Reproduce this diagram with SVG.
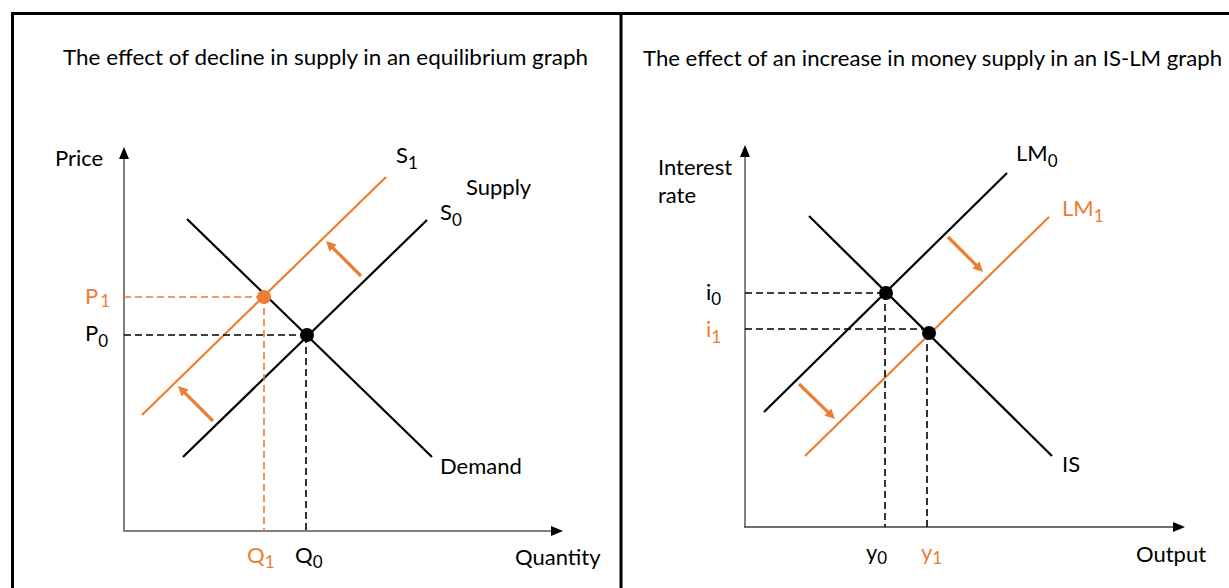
<svg xmlns="http://www.w3.org/2000/svg" width="1229" height="588" viewBox="0 0 1229 588">
<style>
text{font-family:Lato,"Liberation Sans",sans-serif;font-size:22px;fill:#000}
.o{fill:#ED7D31}
.t{font-size:22px}
.s{font-size:17px}
.frame{stroke:#000;stroke-width:3;fill:none}
.axL{stroke:#808080;stroke-width:2;fill:none}
.axR{stroke:#404040;stroke-width:1.3;fill:none}
.cb{stroke:#000;stroke-width:2.2;fill:none}
.co{stroke:#ED7D31;stroke-width:2.2;fill:none}
.db{stroke:#000;stroke-width:1.6;stroke-dasharray:7 4;fill:none}
.do{stroke:#ED7D31;stroke-width:1.6;stroke-dasharray:7 4;fill:none}
.arr{stroke:#ED7D31;stroke-width:3.2;fill:none;marker-end:url(#oa)}
</style>
<defs>
<marker id="oa" viewBox="0 0 10 10" refX="6" refY="5" markerWidth="10" markerHeight="10" markerUnits="userSpaceOnUse" orient="auto"><path d="M0,0 L10,5 L0,10 z" fill="#ED7D31"/></marker>
<marker id="ax" viewBox="0 0 12 10" refX="7" refY="5" markerWidth="12" markerHeight="10" markerUnits="userSpaceOnUse" orient="auto"><path d="M0,0 L12,5 L0,10 z" fill="#000"/></marker>
</defs>
<rect width="1229" height="588" fill="#fff"/>
<g id="frame">
<path class="frame" d="M12.5,588 V13.5 H1229"/>
<path class="frame" d="M621,13.5 V588"/>
</g>
<g id="left-panel">
<g id="title-left"><text class="t" x="63" y="65" textLength="525" lengthAdjust="spacingAndGlyphs">The effect of decline in supply in an equilibrium graph</text></g>
<g id="axes-left">
<path class="axL" d="M124,531 V152" marker-end="url(#ax)"/>
<path class="axL" d="M123,531 H558" marker-end="url(#ax)"/>
<text x="55" y="166">Price</text>
<text x="515" y="565">Quantity</text>
</g>
<g id="demand"><path class="cb" d="M187,219 L432,457"/><text x="440" y="474">Demand</text></g>
<g id="s0"><path class="cb" d="M183,457 L427,220"/><text x="440" y="220">S<tspan class="s" dy="6">0</tspan></text><text x="466" y="195">Supply</text></g>
<g id="s1"><path class="co" d="M142,415 L386,177"/><text x="396" y="163">S<tspan class="s" dy="6">1</tspan></text></g>
<g id="guides-left">
<path class="do" d="M124,297 H264 M264,297 V531"/>
<path class="db" d="M124,335 H307 M306,336 V531"/>
</g>
<g id="p1"><circle cx="264" cy="297" r="7" fill="#ED7D31"/><text class="o" x="85" y="304">P<tspan class="s" dx="2" dy="3">1</tspan></text><text class="o" x="247" y="563">Q<tspan class="s" dy="5">1</tspan></text></g>
<g id="p0"><circle cx="307" cy="335" r="7" fill="#000"/><text x="85" y="341">P<tspan class="s" dy="6">0</tspan></text><text x="295" y="563">Q<tspan class="s" dy="5">0</tspan></text></g>
</g>
<g id="right-panel">
<g id="title-right"><text class="t" x="643" y="66" textLength="579" lengthAdjust="spacingAndGlyphs">The effect of an increase in money supply in an IS-LM graph</text></g>
<g id="axes-right">
<path class="axR" d="M745,527 V150" marker-end="url(#ax)"/>
<path class="axR" d="M744,527 H1180" marker-end="url(#ax)"/>
<text x="658" y="175">Interest</text>
<text x="658" y="203">rate</text>
<text x="1136" y="562">Output</text>
</g>
<g id="is"><path class="cb" d="M809,216 L1052,456"/><text x="1062" y="472">IS</text></g>
<g id="lm0"><path class="cb" d="M764,412 L1007,173"/><text x="1016" y="161">LM<tspan class="s" dy="6">0</tspan></text></g>
<g id="lm1"><path class="co" d="M805,456 L1049,217"/><text class="o" x="1062" y="216">LM<tspan class="s" dy="6">1</tspan></text></g>
<g id="guides-right">
<path class="db" d="M745,293 H886 M885,293 V527"/>
<path class="db" d="M745,329 H929 M927,333 V527"/>
</g>
<g id="e0"><circle cx="886" cy="293" r="7" fill="#000"/><text x="706" y="300">i<tspan class="s" dy="5">0</tspan></text><text x="866" y="560">y<tspan class="s" dy="4">0</tspan></text></g>
<g id="e1"><circle cx="929" cy="333" r="7" fill="#000"/><text class="o" x="706" y="337">i<tspan class="s" dy="6">1</tspan></text><text class="o" x="921" y="560">y<tspan class="s" dy="4">1</tspan></text></g>
</g>
<g id="connectors">
<path class="arr" d="M361,276 L328.8,243.8"/>
<path class="arr" d="M213,421 L180.8,388.8"/>
<path class="arr" d="M948,237 L980.2,269.2"/>
<path class="arr" d="M799,384 L832.1,416.2"/>
</g>
</svg>
